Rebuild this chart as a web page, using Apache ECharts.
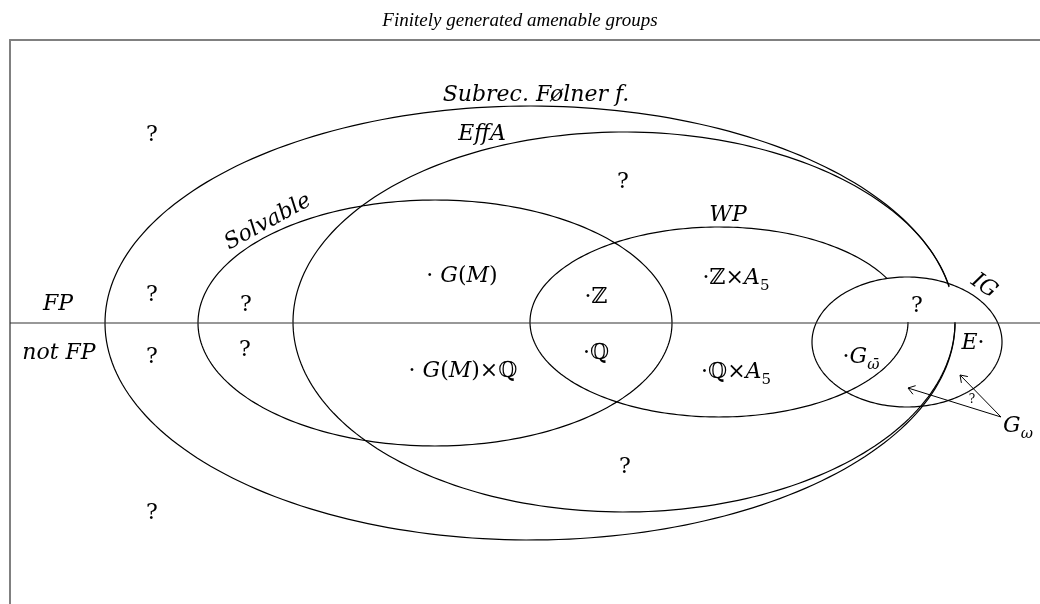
<!DOCTYPE html>
<html>
<head>
<meta charset="utf-8">
<title>Finitely generated amenable groups</title>
<script src="https://cdn.jsdelivr.net/npm/echarts@6/dist/echarts.min.js"></script>
<style>
html, body { margin: 0; padding: 0; background: #fff; }
#chart { width: 1040px; height: 604px; }
</style>
</head>
<body>
<div id="chart"></div>
<script>
// classes of groups, drawn as ellipses (diagram units, y grows downward)
var setNames = ['Subrec. Følner f.', 'EffA', 'Solvable', 'WP', 'IG'];
var setCx = [530, 624, 435, 719, 907];
var setCy = [323, 322, 323, 322, 342];
var setRx = [425, 331, 237, 189, 95];
var setRy = [217, 190, 123, 95, 65];
// where the right arc stops above the FP line (0 = closed ellipse)
var setGap = [-0.167, -0.19, 0, -0.48, 0];

// FP / not FP divider
var fpLineY = 323;

// labels: text (rich), x, y
var labelText = [
    '{m|Subrec. Følner f.}', '{m|EffA}', '{m|Solvable}', '{m|WP}', '{m|IG}',
    '{m|FP}', '{m|not FP}',
    '{r|?}', '{r|?}', '{r|?}', '{r|?}', '{r|?}', '{r|?}', '{r|?}', '{r|?}', '{r|?}',
    '{r|· }{m|G}{r|(}{m|M}{r|)}',
    '{r|·ℤ}',
    '{r|·ℚ}',
    '{r|· }{m|G}{r|(}{m|M}{r|)×ℚ}',
    '{r|·ℤ×}{m|A}{s|5}',
    '{r|·ℚ×}{m|A}{s|5}',
    '{r|·}{m|G}{sm|ω̄}',
    '{m|E}{r|·}',
    '{m|G}{sm|ω}',
    '{q|?}'
];
var labelX = [536, 482, 268, 728, 984, 58, 59,
    152, 623, 152, 246, 152, 245, 917, 625, 152,
    462, 596, 596, 463, 736, 736, 861, 973, 1018, 972];
var labelY = [95, 134, 222, 215, 286, 304, 353,
    135, 182, 295, 305, 357, 350, 306, 467, 513,
    276, 297, 353, 371, 278, 372, 357, 343, 426, 400];
var labelRot = {2: 0.5, 4: -0.61};

// arrows from G_omega label
var arrowFrom = [[1001, 417], [1001, 417]];
var arrowTo = [[908, 388], [960, 375]];

var chart = echarts.init(document.getElementById('chart'));
var FONT = "'Liberation Serif', 'DejaVu Serif', serif";
var LFONT = "'DejaVu Serif', serif";

function ellipsePoints(i, api) {
    var pts = [];
    var t0 = 0, t1 = Math.PI * 2 + setGap[i];
    var n = 240;
    for (var k = 0; k <= n; k++) {
        var t = t0 + (t1 - t0) * k / n;
        pts.push(api.coord([setCx[i] + setRx[i] * Math.cos(t), setCy[i] + setRy[i] * Math.sin(t)]));
    }
    return pts;
}

var richStyle = {
    m: { fontSize: 22, fontStyle: 'italic', fontFamily: LFONT, lineHeight: 31, verticalAlign: 'middle' },
    r: { fontSize: 22, fontFamily: LFONT, lineHeight: 31, verticalAlign: 'middle' },
    s: { fontSize: 15, fontFamily: LFONT, lineHeight: 16, verticalAlign: 'bottom' },
    sm: { fontSize: 15, fontStyle: 'italic', fontFamily: LFONT, lineHeight: 16, verticalAlign: 'bottom' },
    q: { fontSize: 12, fontFamily: LFONT, lineHeight: 14, color: '#777' }
};

var option = {
    animation: false,
    backgroundColor: '#fff',
    title: {
        text: 'Finitely generated amenable groups',
        left: 'center',
        top: 6,
        textStyle: { fontSize: 19, fontStyle: 'italic', fontWeight: 'normal', fontFamily: FONT, color: '#000' }
    },
    grid: { left: 10, top: 40, right: 0, bottom: 0 },
    xAxis: {
        type: 'value', min: 10, max: 1040, position: 'top',
        axisLine: { show: true, onZero: false, lineStyle: { color: '#808080', width: 2 } },
        axisTick: { show: false }, axisLabel: { show: false }, splitLine: { show: false }
    },
    yAxis: {
        type: 'value', min: 40, max: 604, inverse: true,
        axisLine: { show: true, onZero: false, lineStyle: { color: '#808080', width: 2 } },
        axisTick: { show: false }, axisLabel: { show: false }, splitLine: { show: false }
    },
    series: [
        {
            type: 'line',
            data: [[10, fpLineY], [1040, fpLineY]],
            symbol: 'none',
            lineStyle: { color: '#333', width: 1.2 },
            silent: true
        },
        {
            type: 'custom',
            data: setNames.map(function (n, i) { return [i]; }),
            clip: false,
            silent: true,
            renderItem: function (params, api) {
                var i = api.value(0);
                return {
                    type: 'polyline',
                    shape: { points: ellipsePoints(i, api) },
                    style: { stroke: '#000', lineWidth: 1.2, fill: null }
                };
            }
        },
        {
            type: 'custom',
            data: arrowFrom.map(function (p, i) { return [p[0], p[1], arrowTo[i][0], arrowTo[i][1]]; }),
            clip: false,
            silent: true,
            renderItem: function (params, api) {
                var a = api.coord([api.value(0), api.value(1)]);
                var b = api.coord([api.value(2), api.value(3)]);
                var ang = Math.atan2(b[1] - a[1], b[0] - a[0]);
                var len = 8, spread = 0.6;
                var h1 = [b[0] - len * Math.cos(ang - spread), b[1] - len * Math.sin(ang - spread)];
                var h2 = [b[0] - len * Math.cos(ang + spread), b[1] - len * Math.sin(ang + spread)];
                var st = { stroke: '#000', lineWidth: 1, fill: null };
                return {
                    type: 'group',
                    children: [
                        { type: 'line', shape: { x1: a[0], y1: a[1], x2: b[0], y2: b[1] }, style: st },
                        { type: 'polyline', shape: { points: [h1, b, h2] }, style: st }
                    ]
                };
            }
        },
        {
            type: 'custom',
            data: labelText.map(function (t, i) { return [labelX[i], labelY[i], i]; }),
            clip: false,
            silent: true,
            renderItem: function (params, api) {
                var p = api.coord([api.value(0), api.value(1)]);
                var i = api.value(2);
                return {
                    type: 'text',
                    x: p[0],
                    y: p[1],
                    rotation: labelRot[i] || 0,
                    style: {
                        text: labelText[i],
                        fill: '#000',
                        align: 'center',
                        verticalAlign: 'middle',
                        fontFamily: LFONT,
                        fontSize: 22,
                        rich: richStyle
                    }
                };
            }
        }
    ]
};

chart.setOption(option);
</script>
</body>
</html>
